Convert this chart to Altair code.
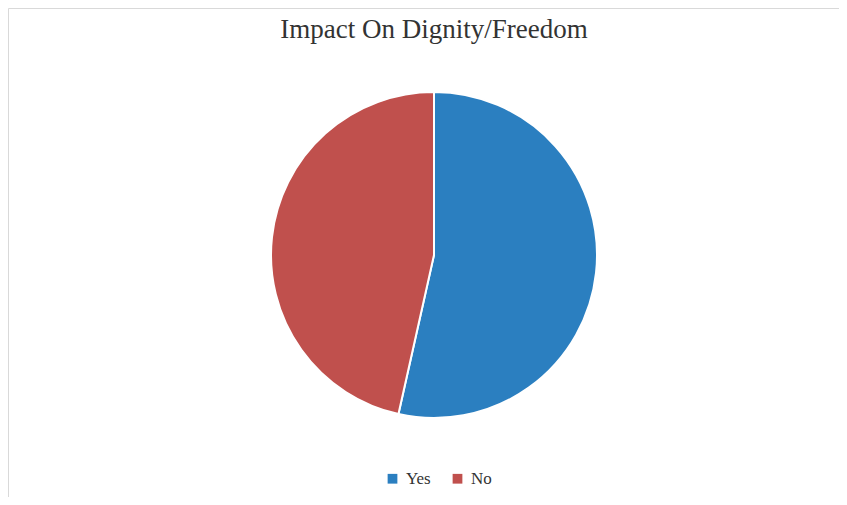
import altair as alt
import pandas as pd

categories = ["Yes", "No"]
values = [53.5, 46.5]
colors = ["#2b7fc0", "#c0504d"]
title_text = "Impact On Dignity/Freedom"

df = pd.DataFrame({"answer": categories, "value": values, "order": [0, 1]})

pie = alt.Chart(df).mark_arc(outerRadius=163, stroke="white", strokeWidth=2).encode(
    theta=alt.Theta("value:Q", stack=True),
    order=alt.Order("order:Q"),
    color=alt.Color(
        "answer:N",
        scale=alt.Scale(domain=categories, range=colors),
        legend=alt.Legend(
            title=None,
            orient="none",
            legendX=376,
            legendY=462,
            direction="horizontal",
            symbolType="square",
            symbolSize=95,
            symbolStrokeWidth=0,
            labelFont="Liberation Serif",
            labelFontSize=17,
            labelColor="#333333",
            columnPadding=18,
            labelOffset=5,
        ),
    ),
    x=alt.value(426),
    y=alt.value(247),
)

title = alt.Chart(pd.DataFrame({"t": [title_text]})).mark_text(
    font="Liberation Serif", fontSize=27, color="#333333", baseline="alphabetic"
).encode(text="t:N", x=alt.value(426), y=alt.value(30))

chart = alt.layer(pie, title).properties(
    width=831,
    height=489,
    autosize=alt.AutoSizeParams(type="fit", contains="padding"),
    padding=0,
).configure_view(stroke="#d9d9d9", strokeWidth=1)

chart.save("out.html", embed_options={"renderer": "svg", "actions": False})
